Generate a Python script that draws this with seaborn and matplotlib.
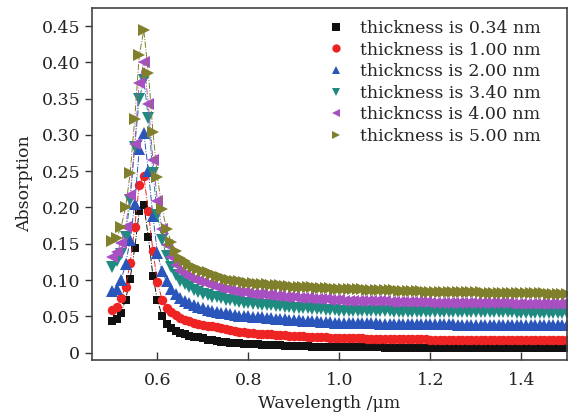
import matplotlib
matplotlib.use("Agg")
import matplotlib.pyplot as plt
from matplotlib.lines import Line2D
import seaborn as sns
import pandas as pd

wavelength = [
    0.50, 0.51, 0.52, 0.53, 0.54, 0.55, 0.56, 0.57, 0.58, 0.59,
    0.60, 0.61, 0.62, 0.63, 0.64, 0.65, 0.66, 0.67, 0.68, 0.69,
    0.70, 0.71, 0.72, 0.73, 0.74, 0.75, 0.76, 0.77, 0.78, 0.79,
    0.80, 0.81, 0.82, 0.83, 0.84, 0.85, 0.86, 0.87, 0.88, 0.89,
    0.90, 0.91, 0.92, 0.93, 0.94, 0.95, 0.96, 0.97, 0.98, 0.99,
    1.00, 1.01, 1.02, 1.03, 1.04, 1.05, 1.06, 1.07, 1.08, 1.09,
    1.10, 1.11, 1.12, 1.13, 1.14, 1.15, 1.16, 1.17, 1.18, 1.19,
    1.20, 1.21, 1.22, 1.23, 1.24, 1.25, 1.26, 1.27, 1.28, 1.29,
    1.30, 1.31, 1.32, 1.33, 1.34, 1.35, 1.36, 1.37, 1.38, 1.39,
    1.40, 1.41, 1.42, 1.43, 1.44, 1.45, 1.46, 1.47, 1.48, 1.49,
    1.50,
]

abs_034 = [
    0.043, 0.047, 0.055, 0.073, 0.102, 0.144, 0.195, 0.204, 0.159, 0.106,
    0.072, 0.051, 0.040, 0.034, 0.030, 0.027, 0.025, 0.023, 0.022, 0.021,
    0.020, 0.018, 0.017, 0.016, 0.015, 0.014, 0.0138, 0.0132, 0.0128, 0.0124,
    0.0120, 0.0117, 0.0114, 0.0111, 0.0108, 0.0105, 0.0102, 0.0099, 0.0096, 0.0093,
    0.0090, 0.0088, 0.0087, 0.0085, 0.0084, 0.0082, 0.0081, 0.0079, 0.0078, 0.0076,
    0.0075, 0.0075, 0.0074, 0.0074, 0.0073, 0.0073, 0.0072, 0.0072, 0.0071, 0.0071,
    0.0070, 0.0070, 0.0070, 0.0069, 0.0069, 0.0069, 0.0069, 0.0068, 0.0068, 0.0068,
    0.0068, 0.0068, 0.0067, 0.0067, 0.0067, 0.0067, 0.0067, 0.0067, 0.0066, 0.0066,
    0.0066, 0.0066, 0.0066, 0.0066, 0.0066, 0.0066, 0.0066, 0.0065, 0.0065, 0.0065,
    0.0065, 0.0065, 0.0065, 0.0065, 0.0065, 0.0065, 0.0065, 0.0065, 0.0065, 0.0065,
    0.0065,
]

abs_100 = [
    0.059, 0.063, 0.075, 0.091, 0.123, 0.173, 0.231, 0.244, 0.195, 0.140,
    0.097, 0.073, 0.062, 0.056, 0.052, 0.048, 0.045, 0.043, 0.041, 0.040,
    0.038, 0.037, 0.036, 0.035, 0.034, 0.032, 0.031, 0.030, 0.029, 0.028,
    0.0270, 0.0266, 0.0262, 0.0258, 0.0254, 0.0250, 0.0246, 0.0242, 0.0238, 0.0234,
    0.0230, 0.0227, 0.0224, 0.0221, 0.0218, 0.0215, 0.0212, 0.0209, 0.0206, 0.0203,
    0.0200, 0.0199, 0.0198, 0.0197, 0.0196, 0.0195, 0.0194, 0.0193, 0.0192, 0.0191,
    0.0190, 0.0189, 0.0188, 0.0187, 0.0186, 0.0185, 0.0184, 0.0183, 0.0182, 0.0181,
    0.0180, 0.0180, 0.0180, 0.0179, 0.0179, 0.0179, 0.0179, 0.0178, 0.0178, 0.0178,
    0.0178, 0.0178, 0.0177, 0.0177, 0.0177, 0.0177, 0.0177, 0.0176, 0.0176, 0.0176,
    0.0176, 0.0176, 0.0176, 0.0176, 0.0175, 0.0175, 0.0175, 0.0175, 0.0175, 0.0175,
    0.0175,
]

abs_200 = [
    0.085, 0.088, 0.100, 0.122, 0.155, 0.205, 0.280, 0.303, 0.250, 0.188,
    0.137, 0.112, 0.098, 0.088, 0.081, 0.075, 0.071, 0.068, 0.065, 0.063,
    0.061, 0.059, 0.057, 0.056, 0.055, 0.054, 0.053, 0.052, 0.051, 0.0505,
    0.0500, 0.0495, 0.0490, 0.0485, 0.0480, 0.0475, 0.0470, 0.0465, 0.0460, 0.0455,
    0.0450, 0.0446, 0.0442, 0.0438, 0.0434, 0.0430, 0.0426, 0.0422, 0.0418, 0.0414,
    0.0410, 0.0409, 0.0408, 0.0407, 0.0406, 0.0405, 0.0404, 0.0403, 0.0402, 0.0401,
    0.0400, 0.0399, 0.0398, 0.0397, 0.0396, 0.0395, 0.0394, 0.0393, 0.0392, 0.0391,
    0.0390, 0.0390, 0.0389, 0.0389, 0.0388, 0.0388, 0.0387, 0.0387, 0.0386, 0.0386,
    0.0385, 0.0385, 0.0385, 0.0384, 0.0384, 0.0384, 0.0383, 0.0383, 0.0383, 0.0382,
    0.0382, 0.0382, 0.0382, 0.0381, 0.0381, 0.0381, 0.0381, 0.0380, 0.0380, 0.0380,
    0.0380,
]

abs_340 = [
    0.118, 0.126, 0.136, 0.159, 0.210, 0.284, 0.349, 0.376, 0.323, 0.247,
    0.190, 0.155, 0.133, 0.118, 0.107, 0.099, 0.094, 0.090, 0.086, 0.083,
    0.081, 0.079, 0.077, 0.076, 0.075, 0.073, 0.072, 0.071, 0.070, 0.069,
    0.0680, 0.0674, 0.0668, 0.0662, 0.0656, 0.0650, 0.0644, 0.0638, 0.0632, 0.0626,
    0.0620, 0.0616, 0.0612, 0.0608, 0.0604, 0.0600, 0.0596, 0.0592, 0.0588, 0.0584,
    0.0580, 0.0579, 0.0578, 0.0577, 0.0576, 0.0574, 0.0573, 0.0572, 0.0571, 0.0570,
    0.0568, 0.0567, 0.0566, 0.0566, 0.0565, 0.0564, 0.0563, 0.0562, 0.0562, 0.0561,
    0.0560, 0.0560, 0.0559, 0.0559, 0.0558, 0.0558, 0.0557, 0.0557, 0.0556, 0.0556,
    0.0555, 0.0555, 0.0555, 0.0554, 0.0554, 0.0554, 0.0553, 0.0553, 0.0553, 0.0552,
    0.0552, 0.0552, 0.0552, 0.0551, 0.0551, 0.0551, 0.0551, 0.0550, 0.0550, 0.0550,
    0.0550,
]

abs_400 = [
    0.132, 0.138, 0.151, 0.173, 0.217, 0.287, 0.372, 0.401, 0.343, 0.265,
    0.209, 0.170, 0.148, 0.132, 0.121, 0.113, 0.108, 0.104, 0.101, 0.099,
    0.097, 0.095, 0.093, 0.091, 0.089, 0.088, 0.086, 0.085, 0.084, 0.083,
    0.0820, 0.0814, 0.0808, 0.0802, 0.0796, 0.0790, 0.0784, 0.0778, 0.0772, 0.0766,
    0.0760, 0.0756, 0.0752, 0.0748, 0.0744, 0.0740, 0.0736, 0.0732, 0.0728, 0.0724,
    0.0720, 0.0718, 0.0717, 0.0715, 0.0714, 0.0712, 0.0711, 0.0709, 0.0708, 0.0706,
    0.0705, 0.0703, 0.0702, 0.0700, 0.0699, 0.0697, 0.0696, 0.0694, 0.0693, 0.0691,
    0.0690, 0.0689, 0.0688, 0.0687, 0.0686, 0.0685, 0.0684, 0.0683, 0.0682, 0.0681,
    0.0680, 0.0680, 0.0679, 0.0679, 0.0678, 0.0678, 0.0677, 0.0677, 0.0676, 0.0676,
    0.0675, 0.0675, 0.0674, 0.0674, 0.0673, 0.0673, 0.0672, 0.0672, 0.0671, 0.0671,
    0.0670,
]

abs_500 = [
    0.154, 0.158, 0.173, 0.200, 0.247, 0.322, 0.410, 0.444, 0.386, 0.304,
    0.242, 0.198, 0.171, 0.153, 0.140, 0.131, 0.126, 0.121, 0.118, 0.115,
    0.113, 0.111, 0.108, 0.106, 0.104, 0.102, 0.100, 0.099, 0.098, 0.097,
    0.0960, 0.0955, 0.0950, 0.0945, 0.0940, 0.0935, 0.0930, 0.0925, 0.0920, 0.0915,
    0.0910, 0.0907, 0.0904, 0.0901, 0.0898, 0.0895, 0.0892, 0.0889, 0.0886, 0.0883,
    0.0880, 0.0878, 0.0876, 0.0874, 0.0872, 0.0870, 0.0868, 0.0866, 0.0864, 0.0862,
    0.0860, 0.0858, 0.0856, 0.0854, 0.0852, 0.0850, 0.0848, 0.0846, 0.0844, 0.0842,
    0.0840, 0.0839, 0.0838, 0.0837, 0.0836, 0.0835, 0.0834, 0.0833, 0.0832, 0.0831,
    0.0830, 0.0829, 0.0828, 0.0827, 0.0826, 0.0825, 0.0824, 0.0823, 0.0822, 0.0821,
    0.0820, 0.0819, 0.0818, 0.0817, 0.0816, 0.0815, 0.0814, 0.0813, 0.0812, 0.0811,
    0.0810,
]

labels = [
    "thickness is 0.34 nm",
    "thickness is 1.00 nm",
    "thickncss is 2.00 nm",
    "thickness is 3.40 nm",
    "thickncss is 4.00 nm",
    "thickness is 5.00 nm",
]
series = [abs_034, abs_100, abs_200, abs_340, abs_400, abs_500]
colors = ["#111111", "#ee2424", "#2a55bb", "#1f8a80", "#a84fc2", "#7f7f2c"]
markers = ["s", "o", "^", "v", "<", ">"]
msizes = [6.2, 6.8, 8.0, 8.0, 8.0, 8.0]

xticks = [0.6, 0.8, 1.0, 1.2, 1.4]
yticks = [0, 0.05, 0.10, 0.15, 0.20, 0.25, 0.30, 0.35, 0.40, 0.45]
ytick_labels = ["0", "0.05", "0.10", "0.15", "0.20", "0.25", "0.30", "0.35", "0.40", "0.45"]

sns.set_theme(style="ticks")
plt.rcParams["font.family"] = ["DejaVu Serif"]

fig = plt.figure(figsize=(5.71, 4.17), dpi=100)
ax = fig.add_axes([0.161, 0.137, 0.832, 0.844])

for lab, vals, c, m, ms in zip(labels, series, colors, markers, msizes):
    df = pd.DataFrame({"Wavelength": wavelength, "Absorption": vals})
    sns.lineplot(data=df, x="Wavelength", y="Absorption", ax=ax, color=c,
                 marker=m, markersize=ms, markeredgewidth=0, linestyle="-.",
                 linewidth=0.7, label=lab, legend=False)

ax.set_xlim(0.456, 1.5)
ax.set_ylim(-0.010, 0.475)
ax.set_xticks(xticks)
ax.set_xticklabels([f"{t:.1f}" for t in xticks], fontsize=12.5)
ax.set_yticks(yticks)
ax.set_yticklabels(ytick_labels, fontsize=12.5)
ax.tick_params(axis="x", direction="in", length=6, width=1, colors="#333333",
               labelcolor="#222222", pad=9)
ax.tick_params(axis="y", direction="out", length=5, width=1, colors="#333333",
               labelcolor="#222222")
for sp in ax.spines.values():
    sp.set_color("#444444")
    sp.set_linewidth(1.2)

ax.set_xlabel("Wavelength /\u03bcm", fontsize=12.5, color="#222222", labelpad=4)
ax.set_ylabel("Absorption", fontsize=12.5, color="#222222", labelpad=6)

handles = [Line2D([], [], linestyle="none", marker=m, color=c, markersize=6,
                  markeredgewidth=0) for m, c in zip(markers, colors)]
ax.legend(handles, labels, loc="upper right", bbox_to_anchor=(0.975, 1.005),
          frameon=False, fontsize=12.5, handlelength=1.0, handletextpad=0.9,
          labelspacing=0.26, borderpad=0.3)

fig.savefig("out.png", dpi=100)
